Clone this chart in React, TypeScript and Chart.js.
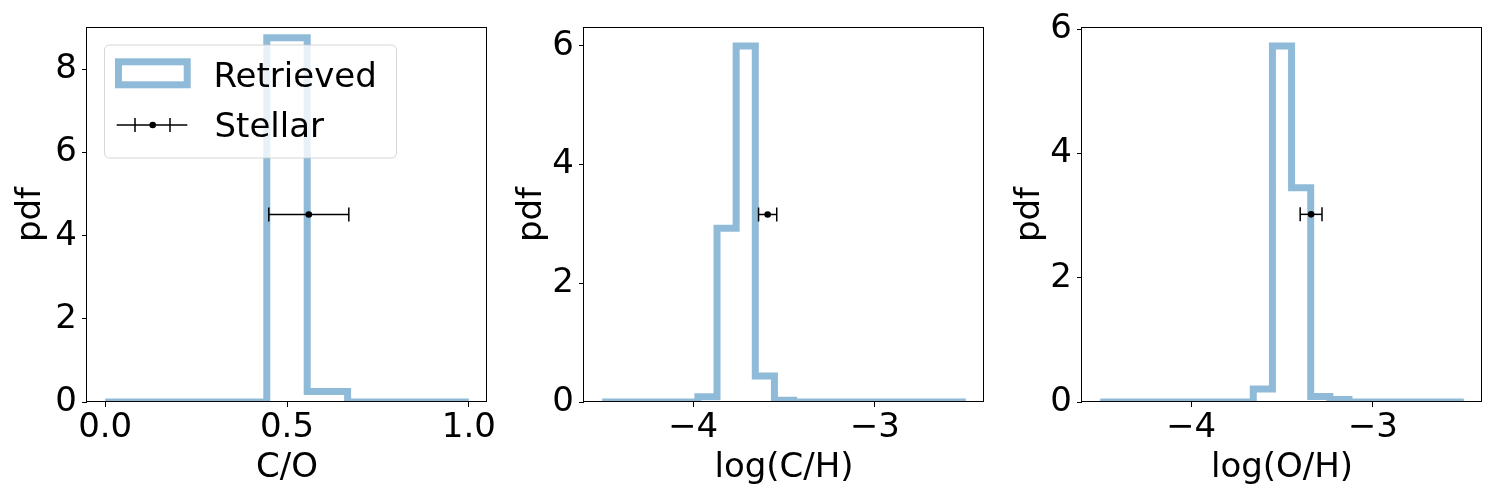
import React, { useEffect, useRef } from "react";
import { Chart, registerables } from "chart.js";

Chart.register(...registerables);

// ---------------- data ----------------
const coBinRange = [0, 1];
const coDensity = [0, 0, 0, 0, 8.76, 0.25, 0, 0, 0];
const chBinRange = [-4.5, -2.5];
const chDensity = [0, 0, 0, 0, 0, 0.09, 2.93, 6.0, 0.44, 0.03, 0, 0, 0, 0, 0, 0, 0, 0, 0];
const ohBinRange = [-4.5, -2.5];
const ohDensity = [0, 0, 0, 0, 0, 0, 0, 0, 0.21, 5.73, 3.45, 0.09, 0.04, 0, 0, 0, 0, 0, 0];

const stellarCO = [0.56, 0.11, 4.51]; // value, error, plotted y
const stellarCH = [-3.59, 0.05, 3.16];
const stellarOH = [-3.34, 0.06, 3.02];

const coXLim = [-0.05, 1.05];
const abXLim = [-4.6, -2.4];
const coYMax = 9.02;
const chYMax = 6.32;
const ohYMax = 6.035;

const coXTicks = [0, 0.5, 1.0];
const coXTickLabels = ["0.0", "0.5", "1.0"];
const abXTicks = [-4, -3];
const abXTickLabels = ["\u22124", "\u22123"];
const coYTicks = [0, 2, 4, 6, 8];
const abYTicks = [0, 2, 4, 6];

const xTitles = ["C/O", "log(C/H)", "log(O/H)"];
const yTitle = "pdf";
const legendLabels = ["Retrieved", "Stellar"];

// ---------------- styling ----------------
const FONT = "'DejaVu Sans', sans-serif";
const FSIZE = 34;
const HIST_COLOR = "rgba(31,119,180,0.5)";

function stepOutline(range: number[], dens: number[]) {
  const n = dens.length;
  const w = (range[1] - range[0]) / n;
  const pts: { x: number; y: number }[] = [{ x: range[0], y: 0 }];
  dens.forEach((v, i) => {
    pts.push({ x: range[0] + i * w, y: v });
    pts.push({ x: range[0] + (i + 1) * w, y: v });
  });
  pts.push({ x: range[1], y: 0 });
  return pts;
}

const framePlugin = {
  id: "frame",
  afterDatasetsDraw(chart: any) {
    const { left, top, right, bottom } = chart.chartArea;
    const ctx = chart.ctx;
    ctx.save();
    ctx.strokeStyle = "#000";
    ctx.lineWidth = 1;
    ctx.strokeRect(Math.round(left) - 0.5, Math.round(top) + 0.5, Math.round(right - left), Math.round(bottom - top) - 1);
    ctx.restore();
  },
};

const legendPlugin = {
  id: "customLegend",
  afterDraw(chart: any) {
    const ctx = chart.ctx;
    const { left, top } = chart.chartArea;
    const bx = left + 17.5, by = top + 18, bw = 292, bh = 113, r = 5;
    ctx.save();
    ctx.beginPath();
    ctx.moveTo(bx + r, by);
    ctx.lineTo(bx + bw - r, by);
    ctx.arcTo(bx + bw, by, bx + bw, by + r, r);
    ctx.lineTo(bx + bw, by + bh - r);
    ctx.arcTo(bx + bw, by + bh, bx + bw - r, by + bh, r);
    ctx.lineTo(bx + r, by + bh);
    ctx.arcTo(bx, by + bh, bx, by + bh - r, r);
    ctx.lineTo(bx, by + r);
    ctx.arcTo(bx, by, bx + r, by, r);
    ctx.closePath();
    ctx.fillStyle = "rgba(255,255,255,0.8)";
    ctx.fill();
    ctx.strokeStyle = "rgba(204,204,204,0.8)";
    ctx.lineWidth = 1;
    ctx.stroke();

    // Retrieved patch
    ctx.strokeStyle = HIST_COLOR;
    ctx.lineWidth = 7;
    ctx.lineJoin = "miter";
    ctx.strokeRect(left + 31.5, top + 34.8, 68.7, 23);

    // Stellar errorbar glyph
    const ly = top + 98;
    ctx.strokeStyle = "#000";
    ctx.lineWidth = 1.5;
    ctx.beginPath();
    ctx.moveTo(left + 29.7, ly);
    ctx.lineTo(left + 100.3, ly);
    ctx.moveTo(left + 48, ly - 7);
    ctx.lineTo(left + 48, ly + 7);
    ctx.moveTo(left + 83, ly - 7);
    ctx.lineTo(left + 83, ly + 7);
    ctx.stroke();
    ctx.fillStyle = "#000";
    ctx.beginPath();
    ctx.arc(left + 65.7, ly, 3.3, 0, Math.PI * 2);
    ctx.fill();

    // labels
    ctx.fillStyle = "#000";
    ctx.font = `${FSIZE}px ${FONT}`;
    ctx.textAlign = "left";
    ctx.textBaseline = "alphabetic";
    ctx.fillText(legendLabels[0], left + 126.5, top + 59.7);
    ctx.fillText(legendLabels[1], left + 127.5, top + 109.7);
    ctx.restore();
  },
};

type PanelProps = {
  canvasLeft: number;
  binRange: number[];
  density: number[];
  stellar: number[];
  xLim: number[];
  yMax: number;
  xTicks: number[];
  xTickLabels: string[];
  yTicks: number[];
  xTitle: string;
  yTitlePad: number;
  showLegend: boolean;
};

function Panel(p: PanelProps) {
  const ref = useRef<HTMLCanvasElement>(null);
  useEffect(() => {
    if (!ref.current) return;
    const font = { family: FONT, size: FSIZE, lineHeight: 1.2 };
    const [sv, se, sy] = p.stellar;
    const chart = new Chart(ref.current, {
      type: "line",
      data: {
        datasets: [
          {
            data: [{ x: sv, y: sy }],
            showLine: false,
            pointStyle: "circle",
            pointRadius: 3.3,
            pointBackgroundColor: "#000",
            pointBorderWidth: 0,
            clip: false,
          } as any,
          {
            data: [
              { x: sv - se, y: sy },
              { x: sv + se, y: sy },
            ],
            borderColor: "#000",
            borderWidth: 1.5,
            pointStyle: "line",
            pointRotation: 90,
            pointRadius: 7,
            pointBorderWidth: 1.5,
            pointBorderColor: "#000",
            clip: false,
          } as any,
          {
            data: stepOutline(p.binRange, p.density),
            borderColor: HIST_COLOR,
            borderWidth: 7,
            pointRadius: 0,
            tension: 0,
            fill: false,
            borderJoinStyle: "miter",
            borderCapStyle: "butt",
            clip: 0,
          } as any,
        ],
      },
      options: {
        responsive: false,
        animation: false,
        events: [],
        layout: { padding: { top: 27, right: 13, left: 0, bottom: 0 } },
        plugins: { legend: { display: false }, tooltip: { enabled: false } },
        scales: {
          x: {
            type: "linear",
            min: p.xLim[0],
            max: p.xLim[1],
            afterFit: (s: any) => {
              s.height = 98;
            },
            afterBuildTicks: (s: any) => {
              s.ticks = p.xTicks.map((v) => ({ value: v }));
            },
            ticks: {
              callback: (_v: any, i: number) => p.xTickLabels[i],
              font,
              color: "#000",
              padding: 1,
              maxRotation: 0,
              autoSkip: false,
            },
            grid: {
              display: true,
              drawOnChartArea: false,
              drawTicks: true,
              tickLength: 5,
              tickColor: "#000",
              tickWidth: 1,
            },
            border: { display: false },
            title: {
              display: true,
              text: p.xTitle,
              font,
              color: "#000",
              padding: { top: 0, bottom: 11 },
            },
          },
          y: {
            type: "linear",
            min: 0,
            max: p.yMax,
            afterFit: (s: any) => {
              s.width = 87;
            },
            afterBuildTicks: (s: any) => {
              s.ticks = p.yTicks.map((v) => ({ value: v }));
            },
            ticks: {
              callback: (v: any) => String(v),
              font,
              color: "#000",
              padding: 5,
              autoSkip: false,
            },
            grid: {
              display: true,
              drawOnChartArea: false,
              drawTicks: true,
              tickLength: 5,
              tickColor: "#000",
              tickWidth: 1,
            },
            border: { display: false },
            title: {
              display: true,
              text: yTitle,
              font,
              color: "#000",
              padding: { top: p.yTitlePad, bottom: 0 },
            },
          },
        },
      } as any,
      plugins: p.showLegend ? [framePlugin, legendPlugin] : [framePlugin],
    });
    return () => chart.destroy();
  }, []);
  return (
    <canvas
      ref={ref}
      width={500}
      height={500}
      style={{ position: "absolute", left: p.canvasLeft, top: 0, width: 500, height: 500 }}
    />
  );
}

export default function App() {
  return (
    <div style={{ position: "fixed", left: 0, top: 0, width: 1500, height: 500, background: "#fff", overflow: "hidden" }}>
      <Panel
        canvasLeft={0}
        binRange={coBinRange}
        density={coDensity}
        stellar={stellarCO}
        xLim={coXLim}
        yMax={coYMax}
        xTicks={coXTicks}
        xTickLabels={coXTickLabels}
        yTicks={coYTicks}
        xTitle={xTitles[0]}
        yTitlePad={11}
        showLegend={true}
      />
      <Panel
        canvasLeft={497}
        binRange={chBinRange}
        density={chDensity}
        stellar={stellarCH}
        xLim={abXLim}
        yMax={chYMax}
        xTicks={abXTicks}
        xTickLabels={abXTickLabels}
        yTicks={abYTicks}
        xTitle={xTitles[1]}
        yTitlePad={15}
        showLegend={false}
      />
      <Panel
        canvasLeft={995}
        binRange={ohBinRange}
        density={ohDensity}
        stellar={stellarOH}
        xLim={abXLim}
        yMax={ohYMax}
        xTicks={abXTicks}
        xTickLabels={abXTickLabels}
        yTicks={abYTicks}
        xTitle={xTitles[2]}
        yTitlePad={15}
        showLegend={false}
      />
    </div>
  );
}
